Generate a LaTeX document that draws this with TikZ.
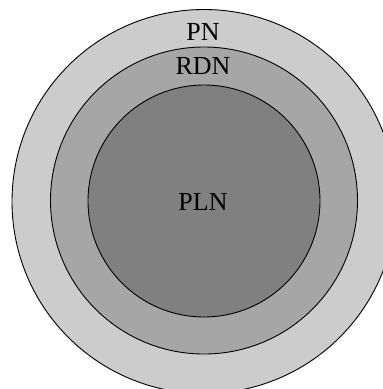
\documentclass[tikz,border=0pt]{standalone}
\usepackage{fontspec}
\setmainfont{Liberation Serif}
\begin{document}
\begin{tikzpicture}[x=1pt,y=-1pt,
  ring/.style={circle,draw=black,line width=0.9pt,inner sep=0pt},
  lbl/.style={anchor=base,inner sep=0pt,font=\fontsize{26}{30}\selectfont}]
  \useasboundingbox (0,0) rectangle (383,389);
  \clip (0,0) rectangle (383,389);
  % nested regions
  \node[ring,fill={rgb,255:red,204;green,204;blue,204},minimum size=384pt] (pn) at (204,201.5) {};
  \node[ring,fill={rgb,255:red,166;green,166;blue,166},minimum size=307pt] (rdn) at (204,200.5) {};
  \node[ring,fill={rgb,255:red,128;green,128;blue,128},minimum size=232pt] (pln) at (204,201) {};
  % labels
  \node[lbl] (pnlabel) at (203,40) {PN};
  \node[lbl] (rdnlabel) at (203,74) {RDN};
  \node[lbl] (pllabel) at (203,210) {PLN};
\end{tikzpicture}
\end{document}
